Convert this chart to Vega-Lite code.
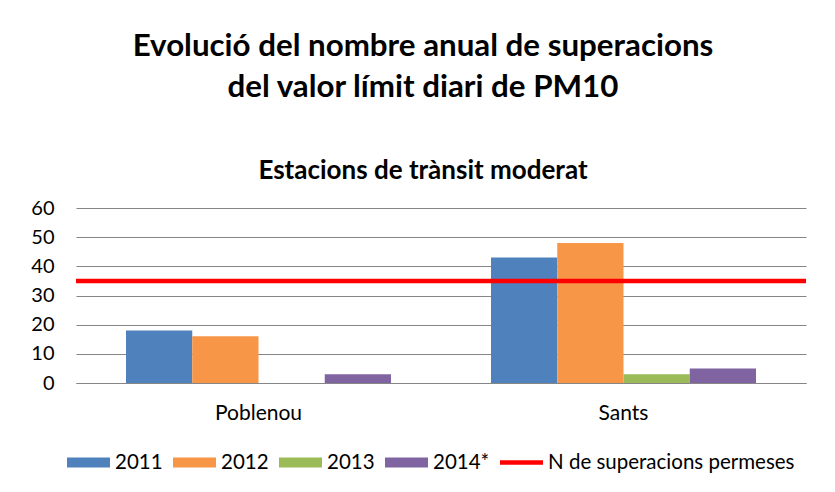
{
  "$schema": "https://vega.github.io/schema/vega-lite/v6.json",
  "width": 730,
  "height": 175,
  "autosize": {"type": "none"},
  "padding": {"left": 76, "top": 208, "right": 29, "bottom": 109},
  "background": "white",
  "config": {"font": "Lato", "view": {"stroke": null}},
  "title": {
    "text": ["Evolució del nombre anual de superacions", "del valor límit diari de PM10"],
    "subtitle": "Estacions de trànsit moderat",
    "fontSize": 31.3,
    "fontWeight": "bold",
    "lineHeight": 41,
    "color": "black",
    "subtitleFontSize": 26,
    "subtitleFontWeight": "bold",
    "subtitleColor": "black",
    "subtitlePadding": 55,
    "anchor": "middle",
    "frame": "group",
    "dx": -18,
    "offset": 14
  },
  "encoding": {
    "y": {
      "field": "count",
      "type": "quantitative",
      "scale": {"domain": [0, 60]},
      "axis": {
        "title": null,
        "values": [0, 10, 20, 30, 40, 50, 60],
        "labelOverlap": false,
        "grid": true,
        "gridColor": "#868686",
        "gridWidth": 1,
        "gridOpacity": 1,
        "domain": false,
        "ticks": false,
        "labelFontSize": 20,
        "labelPadding": 22,
        "labelColor": "black"
      }
    }
  },
  "layer": [
    {
      "data": {
        "values": [
          {"station": "Poblenou", "year": "2011", "count": 18},
          {"station": "Poblenou", "year": "2012", "count": 16},
          {"station": "Poblenou", "year": "2013", "count": 0},
          {"station": "Poblenou", "year": "2014*", "count": 3},
          {"station": "Sants", "year": "2011", "count": 43},
          {"station": "Sants", "year": "2012", "count": 48},
          {"station": "Sants", "year": "2013", "count": 3},
          {"station": "Sants", "year": "2014*", "count": 5}
        ]
      },
      "mark": {"type": "bar"},
      "encoding": {
        "x": {
          "field": "station",
          "type": "nominal",
          "sort": ["Poblenou", "Sants"],
          "scale": {"paddingInner": 0.274, "paddingOuter": 0.137},
          "axis": {
            "title": null,
            "labelAngle": 0,
            "labelFontSize": 21,
            "labelColor": "black",
            "labelPadding": 19,
            "ticks": false,
            "domainColor": "#868686",
            "domainWidth": 1
          }
        },
        "xOffset": {
          "field": "year",
          "type": "nominal",
          "sort": ["2011", "2012", "2013", "2014*"],
          "scale": {"paddingInner": 0, "paddingOuter": 0}
        },
        "color": {
          "field": "year",
          "type": "nominal",
          "scale": {
            "domain": ["2011", "2012", "2013", "2014*", "N de superacions permeses"],
            "range": ["#4F81BD", "#F79646", "#9BBB59", "#8064A2", "#FF0000"]
          },
          "legend": {
            "title": null,
            "orient": "none",
            "legendX": -9,
            "legendY": 233,
            "direction": "horizontal",
            "columns": 5,
            "padding": 0,
            "symbolSize": 1849,
            "symbolStrokeWidth": 0,
            "symbolOpacity": 1,
            "labelFontSize": 20.5,
            "labelColor": "black",
            "labelOffset": 5,
            "columnPadding": 10,
            "labelLimit": 400,
            "encode": {
              "symbols": {
                "update": {
                  "shape": {"signal": "datum.value === 'N de superacions permeses' ? 'M-1,-0.11H1V0.11H-1Z' : 'M-1,-0.23H1V0.23H-1Z'"}
                }
              }
            }
          }
        }
      }
    },
    {
      "data": {"values": [{"count": 35, "label": "N de superacions permeses"}]},
      "mark": {"type": "rule", "color": "#FF0000", "strokeWidth": 4.5},
      "encoding": {}
    }
  ]
}
